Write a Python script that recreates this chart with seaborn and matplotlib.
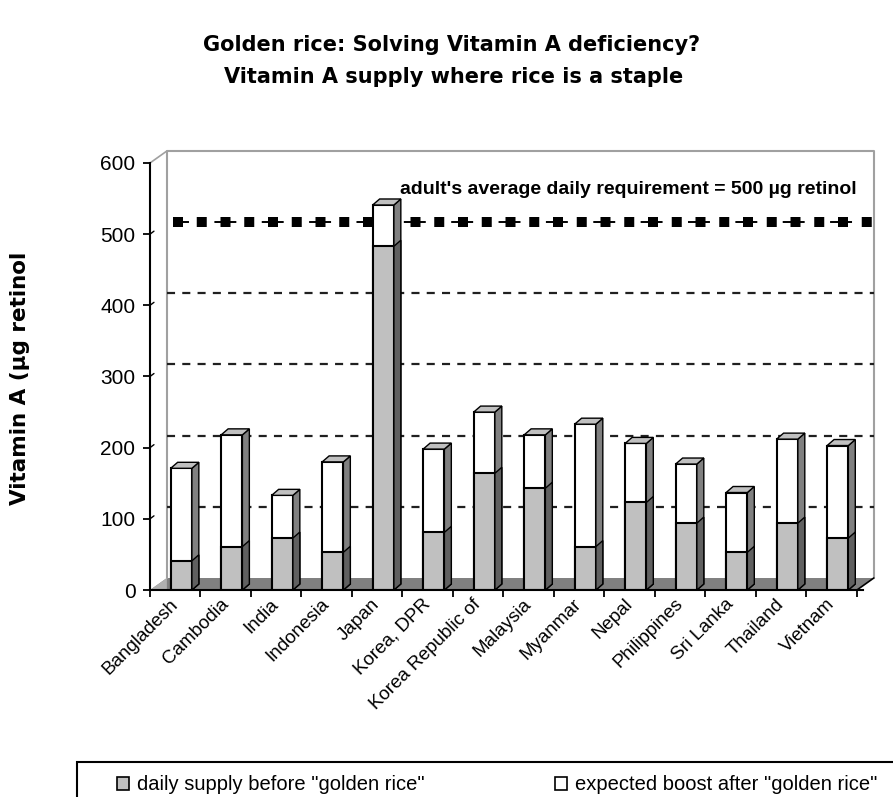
import numpy as np
import pandas as pd
import matplotlib
matplotlib.use("Agg")
import matplotlib.pyplot as plt
from matplotlib.patches import Polygon, Rectangle
from matplotlib.transforms import ScaledTranslation
import seaborn as sns

# ---------------- data ----------------
countries = ["Bangladesh", "Cambodia", "India", "Indonesia", "Japan", "Korea, DPR",
             "Korea Republic of", "Malaysia", "Myanmar", "Nepal", "Philippines",
             "Sri Lanka", "Thailand", "Vietnam"]
supply_before = [41, 61, 73, 53, 483, 81, 164, 143, 61, 123, 94, 53, 94, 73]
total_after = [171, 218, 133, 180, 541, 198, 250, 218, 233, 206, 177, 137, 212, 203]
boost_after = [t - s for t, s in zip(total_after, supply_before)]
requirement = 500
y_ticks = [0, 100, 200, 300, 400, 500, 600]
grid_values = [100, 200, 300, 400]
title_lines = ["Golden rice: Solving Vitamin A deficiency?",
               "Vitamin A supply where rice is a staple"]
y_label = "Vitamin A (\u00b5g retinol"
req_label = "adult's average daily requirement = 500 \u00b5g retinol"
legend_labels = ['daily supply before "golden rice"', 'expected boost after "golden rice"']

df = pd.DataFrame({"country": countries, "before": supply_before,
                   "boost": boost_after, "total": total_after})

# ---------------- style ----------------
sns.set_theme(style="white")
plt.rcParams["font.family"] = ["Liberation Sans", "DejaVu Sans"]
plt.rcParams["lines.scale_dashes"] = False
for k in ["text.color", "axes.labelcolor", "xtick.color", "ytick.color"]:
    plt.rcParams[k] = "black"
WIDE_BOLD = ["DejaVu Sans"]

W, H = 893, 797
fig = plt.figure(figsize=(W / 100, H / 100), dpi=100)
fig.patch.set_facecolor("white")
ax = fig.add_axes([150 / W, 1 - 590 / H, 713 / W, 427 / H])
ax.set_facecolor("none")

XMIN, XMAX = -0.62, 13.38
YMAX = 600
ax.set_xlim(XMIN, XMAX)
ax.set_ylim(0, YMAX)

px_x = (XMAX - XMIN) / 713.0   # data units per pixel (x)
px_y = YMAX / 427.0            # data units per pixel (y)
WDX, WDY = 17 * px_x, 12 * px_y   # back wall depth
BDX, BDY = 7 * px_x, 6 * px_y     # bar depth

GREY = "#c0c0c0"

# ---------------- floor & back wall ----------------
floor = Polygon([(XMIN, 0), (XMAX, 0), (XMAX + WDX, WDY), (XMIN + WDX, WDY)],
                closed=True, facecolor="#808080", edgecolor="none", zorder=1, clip_on=False)
ax.add_patch(floor)
left_tri = Polygon([(XMIN, 0), (XMIN + WDX, WDY), (XMIN + WDX, 0)], closed=True,
                   facecolor="#b0b0b0", edgecolor="none", zorder=1.2, clip_on=False)
ax.add_patch(left_tri)
ax.plot([XMAX, XMAX + WDX], [0, WDY], color="black", lw=1.2, zorder=2, clip_on=False)
ax.plot([XMIN, XMIN + WDX], [YMAX, YMAX + WDY], color="#a0a0a0", lw=1.2, zorder=1, clip_on=False)
ax.plot([XMIN + WDX, XMIN + WDX, XMAX + WDX, XMAX + WDX],
        [WDY, YMAX + WDY, YMAX + WDY, WDY], color="#a0a0a0", lw=1.5, zorder=1, clip_on=False)

for v in grid_values:
    ax.plot([XMIN + WDX, XMAX + WDX], [v + WDY, v + WDY], color="#202020", lw=1.6,
            ls=(0, (5.8, 5.2)), zorder=1, clip_on=False)

# requirement line (square dots with thin connectors)
req_x = [XMIN + WDX + 6 * px_x, XMAX + WDX]
ax.plot(req_x, [requirement + WDY] * 2, color="black", lw=1.4,
        ls=(4.3, (15.8, 18.3)), zorder=2, clip_on=False)
ax.plot(req_x, [requirement + WDY] * 2, color="black", lw=7.2,
        ls=(0, (7.2, 9.9)), zorder=2, clip_on=False)

# ---------------- bars ----------------
sns.barplot(data=df, x="country", y="total", color="white", saturation=1, width=0.42,
            edgecolor="black", linewidth=1.5, errorbar=None, ax=ax, zorder=5)
n = len(countries)
sns.barplot(data=df, x="country", y="before", color=GREY, saturation=1, width=0.42,
            edgecolor="black", linewidth=1.5, errorbar=None, ax=ax, zorder=6)

bar_patches = [p for p in ax.patches if isinstance(p, Rectangle)]
tot_bars = bar_patches[:n]
pre_bars = bar_patches[n:2 * n]

for p in tot_bars:
    x0, w, h = p.get_x(), p.get_width(), p.get_height()
    x1 = x0 + w
    side = Polygon([(x1, 0), (x1, h), (x1 + BDX, h + BDY), (x1 + BDX, BDY)], closed=True,
                   facecolor="#808080", edgecolor="black", lw=1.0, zorder=5.5)
    top = Polygon([(x0, h), (x1, h), (x1 + BDX, h + BDY), (x0 + BDX, h + BDY)], closed=True,
                  facecolor=GREY, edgecolor="black", lw=1.0, zorder=5.5)
    ax.add_patch(side)
    ax.add_patch(top)
for p in pre_bars:
    x0, w, h = p.get_x(), p.get_width(), p.get_height()
    x1 = x0 + w
    side = Polygon([(x1, 0), (x1, h), (x1 + BDX, h + BDY), (x1 + BDX, BDY)], closed=True,
                   facecolor="#606060", edgecolor="black", lw=1.0, zorder=6.5)
    ax.add_patch(side)

# ---------------- axes ----------------
for s in ["top", "right"]:
    ax.spines[s].set_visible(False)
for s in ["left", "bottom"]:
    ax.spines[s].set_color("black")
    ax.spines[s].set_linewidth(1.5)
    ax.spines[s].set_zorder(8)

ax.set_yticks(y_ticks)
ax.set_yticklabels([str(v) for v in y_ticks], fontsize=15)
ax.tick_params(axis="y", direction="out", length=5, width=1.3, color="black", pad=5.5, left=True)
for v in y_ticks[1:-1]:
    ax.plot([XMIN, XMIN + 4 * px_x], [v, v + 3 * px_y], color="black", lw=1.0, zorder=8, clip_on=False)

ax.set_xticks(range(n))
ax.set_xticklabels(countries, rotation=45, ha="right", rotation_mode="anchor", fontsize=13.5)
ax.tick_params(axis="x", which="major", length=0, pad=4)
ax.set_xticks(np.arange(n + 1) + XMIN, minor=True)
ax.tick_params(axis="x", which="minor", direction="out", length=5, width=1.3, color="black", bottom=True)
shift = ScaledTranslation(-12 / 100, 0, fig.dpi_scale_trans)
for lab in ax.get_xticklabels():
    lab.set_transform(lab.get_transform() + shift)
ax.set_xlabel("")
ax.set_ylabel("")
ax.grid(False)

# ---------------- texts ----------------
fig.text(452 / W, 1 - 45 / H, title_lines[0], ha="center", va="center", fontsize=15,
         fontweight="bold", family=WIDE_BOLD)
fig.text(454 / W, 1 - 77 / H, title_lines[1], ha="center", va="center", fontsize=15,
         fontweight="bold", family=WIDE_BOLD)
fig.text(20 / W, 1 - 378 / H, y_label, rotation=90, ha="center", va="center", fontsize=15.5,
         fontweight="bold", family=WIDE_BOLD)
fig.text(857 / W, 1 - 189 / H, req_label, ha="right", va="center", fontsize=14, fontweight="bold")

# ---------------- legend ----------------
frame = Rectangle((77 / W, -0.05), 1.0, (797 - 762) / H + 0.05, transform=fig.transFigure,
                  fill=False, edgecolor="black", lw=1.5)
fig.patches.append(frame)
h1 = Rectangle((0, 0), 1, 1, facecolor=GREY, edgecolor="black", lw=1.2)
h2 = Rectangle((0, 0), 1, 1, facecolor="white", edgecolor="black", lw=1.2)
leg_kw = dict(frameon=False, fontsize=14.5, handlelength=0.6, handleheight=0.6,
              handletextpad=0.4, borderpad=0, borderaxespad=0, loc="center left")
fig.legend([h1], [legend_labels[0]], bbox_to_anchor=(117 / W, 1 - 785 / H), **leg_kw)
fig.legend([h2], [legend_labels[1]], bbox_to_anchor=(555 / W, 1 - 785 / H), **leg_kw)

fig.savefig("out.png", dpi=100, facecolor="white")
